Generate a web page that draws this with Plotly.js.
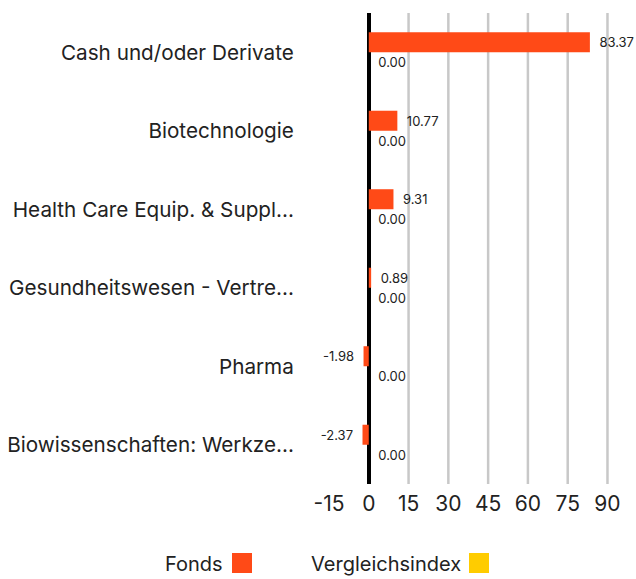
<!DOCTYPE html>
<html>
<head>
<meta charset="utf-8">
<script src="https://cdn.plot.ly/plotly-3.0.1.min.js"></script>
<style>html,body{margin:0;padding:0;background:#fff;}#chart{width:636px;height:579px;}</style>
</head>
<body>
<div id="chart"></div>
<script>
const categories = [
  "Cash und/oder Derivate",
  "Biotechnologie",
  "Health Care Equip. & Suppl...",
  "Gesundheitswesen - Vertre...",
  "Pharma",
  "Biowissenschaften: Werkze..."
];
const seriesNames = ["Fonds", "Vergleichsindex"];
const fondsValues = [83.37, 10.77, 9.31, 0.89, -1.98, -2.37];
const indexValues = [0.00, 0.00, 0.00, 0.00, 0.00, 0.00];
const xTickVals = [-15, 0, 15, 30, 45, 60, 75, 90];
const gridVals = [15, 30, 45, 60, 75, 90];
const colors = ["#FF4A17", "#FFCC00"];

const FONT = "Inter, 'Noto Sans', sans-serif";
const tmpl = vals => vals.map(v => v < 0 ? "%{x:.2f}\u2002" : "\u2002%{x:.2f}");

const traces = [
  {
    type: "bar", orientation: "h", name: seriesNames[0],
    y: categories, x: fondsValues,
    marker: {color: colors[0]},
    text: fondsValues.map(v => v.toFixed(2)),
    texttemplate: tmpl(fondsValues),
    textposition: "outside", cliponaxis: false,
    textfont: {family: FONT, size: 13, color: "#222"},
    hoverinfo: "x+y"
  },
  {
    type: "bar", orientation: "h", name: seriesNames[1],
    y: categories, x: indexValues,
    marker: {color: colors[1]},
    text: indexValues.map(v => v.toFixed(2)),
    texttemplate: tmpl(indexValues),
    textposition: "outside", cliponaxis: false,
    textfont: {family: FONT, size: 13, color: "#222"},
    hoverinfo: "x+y"
  }
];

const L = 329, R = 2, T = 13, B = 95, W = 636, H = 579;
const pw = W - L - R, ph = H - T - B;
const px = v => (v - L) / pw;
const py = v => (H - B - v) / ph;

const shapes = gridVals.map(v => ({
  type: "line", xref: "x", yref: "paper", x0: v, x1: v, y0: 0, y1: 1,
  line: {color: "#c8c8c8", width: 2.5}, layer: "below"
}));
shapes.push(
  {type: "rect", xref: "paper", yref: "paper", x0: px(232), x1: px(252), y0: py(573), y1: py(553),
   fillcolor: colors[0], line: {width: 0}},
  {type: "rect", xref: "paper", yref: "paper", x0: px(469), x1: px(489), y0: py(573), y1: py(553),
   fillcolor: colors[1], line: {width: 0}}
);

const annotations = [
  {xref: "paper", yref: "paper", x: px(225), y: py(564), xanchor: "right", yanchor: "middle",
   text: seriesNames[0], showarrow: false, font: {family: FONT, size: 20, color: "#222"}},
  {xref: "paper", yref: "paper", x: px(463), y: py(564), xanchor: "right", yanchor: "middle",
   text: seriesNames[1], showarrow: false, font: {family: FONT, size: 20, color: "#222"}}
];

const layout = {
  width: W, height: H,
  margin: {l: L, r: R, t: T, b: B, pad: 0},
  paper_bgcolor: "#fff", plot_bgcolor: "#fff",
  showlegend: false,
  barmode: "group", bargap: 0.49, bargroupgap: 0,
  font: {family: FONT, color: "#222"},
  xaxis: {
    range: [-15, 100], tickmode: "array", tickvals: xTickVals,
    ticktext: xTickVals.map(String),
    showgrid: false, zeroline: true, zerolinecolor: "#000", zerolinewidth: 4,
    showline: false, ticks: "outside", ticklen: 1, tickcolor: "rgba(0,0,0,0)",
    tickfont: {family: FONT, size: 21, color: "#222"}, fixedrange: true
  },
  yaxis: {
    type: "category", autorange: "reversed",
    showgrid: false, zeroline: false, showline: false,
    ticks: "outside", ticklen: 30, tickcolor: "rgba(0,0,0,0)",
    tickfont: {family: FONT, size: 20.7, color: "#222"}, fixedrange: true
  },
  shapes: shapes,
  annotations: annotations
};

Plotly.newPlot("chart", traces, layout, {displayModeBar: false, staticPlot: true});
</script>
</body>
</html>
